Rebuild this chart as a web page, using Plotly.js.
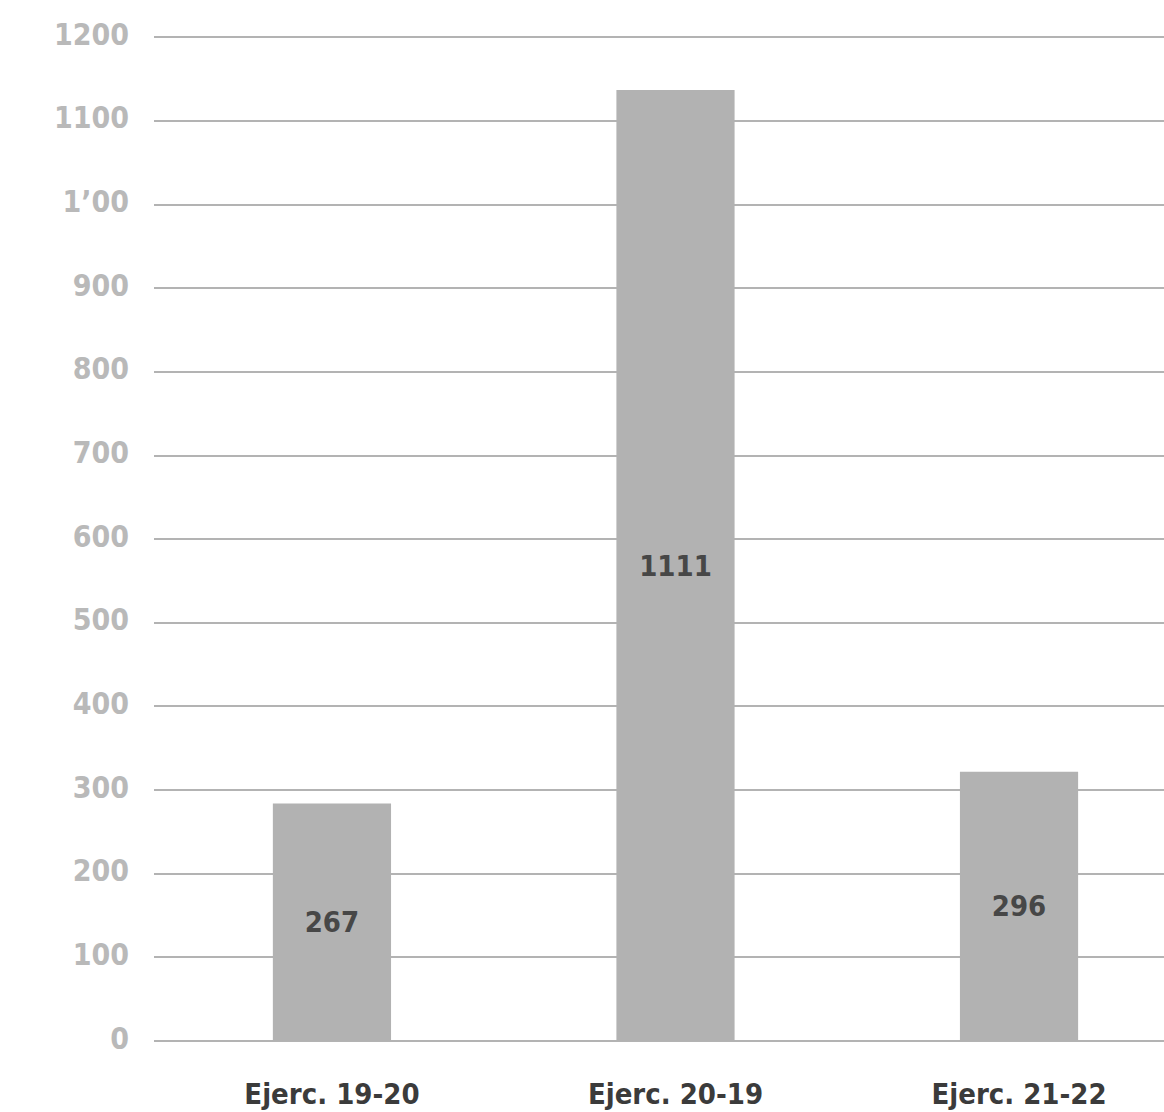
<!DOCTYPE html>
<html>
<head>
<meta charset="utf-8">
<script src="https://cdn.plot.ly/plotly-3.0.1.min.js"></script>
<style>html,body{margin:0;padding:0;background:#fff;}#chart{width:1164px;height:1112px;}</style>
</head>
<body>
<div id="chart"></div>
<script>
// Data
const categories = ["Ejerc. 19-20", "Ejerc. 20-19", "Ejerc. 21-22"];
const barHeights = [284, 1137, 322];          // drawn bar heights (as seen on the axis)
const barLabels  = ["267", "1111", "296"];     // labels printed inside the bars
const yTickValues = [0, 100, 200, 300, 400, 500, 600, 700, 800, 900, 1000, 1100, 1200];
const yTickLabels = ["0", "100", "200", "300", "400", "500", "600", "700", "800", "900", "1’00", "1100", "1200"];

const fontFam = '"DejaVu Sans Condensed", "DejaVu Sans", sans-serif';

const trace = {
  type: 'bar',
  x: categories,
  y: barHeights,
  text: barLabels,
  texttemplate: '%{text}',
  textposition: 'inside',
  insidetextanchor: 'middle',
  constraintext: 'none',
  textangle: 0,
  textfont: {family: fontFam, size: 29, color: '#474747', weight: 'bold'},
  marker: {color: '#b2b2b2', line: {width: 0}},
  width: 0.344,
  hoverinfo: 'none'
};

const layout = {
  width: 1164,
  height: 1112,
  margin: {l: 154, r: 0, t: 8, b: 50},
  paper_bgcolor: '#ffffff',
  plot_bgcolor: '#ffffff',
  showlegend: false,
  xaxis: {
    type: 'category',
    range: [-0.518, 2.422],
    showgrid: false,
    zeroline: false,
    showline: false,
    ticks: '',
    ticklabelstandoff: 12,
    automargin: false,
    tickfont: {family: fontFam, size: 29, color: '#3b3b3b', weight: 'bold'}
  },
  yaxis: {
    range: [-25, 1235],
    tickvals: yTickValues,
    ticktext: yTickLabels,
    showgrid: true,
    gridcolor: '#b3b3b3',
    gridwidth: 2,
    zeroline: false,
    showline: false,
    ticks: '',
    ticklabelstandoff: 24,
    ticklabelshift: -3,
    automargin: false,
    tickfont: {family: fontFam, size: 30, color: '#b9b9b9', weight: 'bold'}
  }
};

Plotly.newPlot('chart', [trace], layout, {displayModeBar: false, staticPlot: true});
</script>
</body>
</html>
